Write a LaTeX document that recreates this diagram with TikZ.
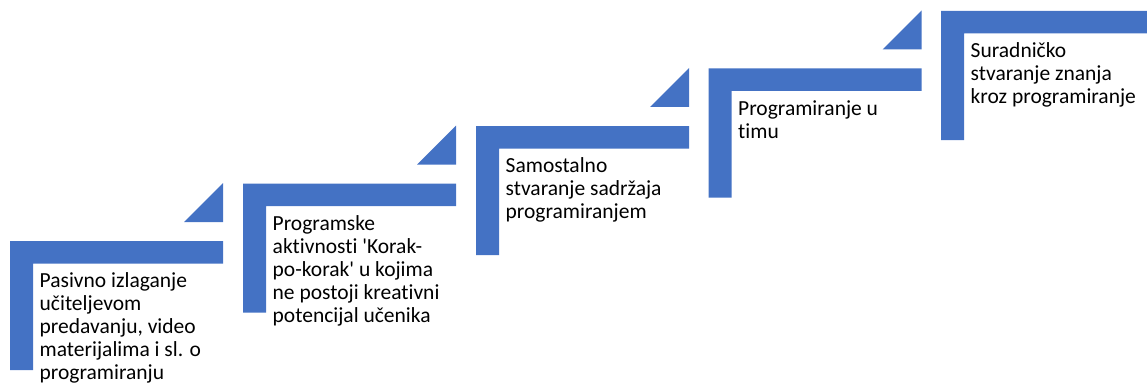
\documentclass[tikz,border=0pt]{standalone}
\usepackage{fontspec}
\setmainfont{Carlito}[Ligatures={NoCommon}]
\definecolor{stepblue}{HTML}{4472C4}
\newcommand{\stepshape}[3]{% x0, top, barend
  \fill[stepblue] (#1,#2) -- (#3,#2) -- (#3,#2+22.5) -- (#1+23,#2+22.5) -- (#1+23,#2+129) -- (#1,#2+129) -- cycle;}
\newcommand{\steptri}[2]{% x0, top
  \fill[stepblue] (#1+174,#2-19) -- (#1+213,#2-19) -- (#1+213,#2-58) -- cycle;}
\begin{document}
\begin{tikzpicture}[x=1pt,y=-1pt,
  steptext/.style={anchor=base west, inner sep=0pt, font=\fontsize{21.5}{23}\selectfont}]
\useasboundingbox (0,0) rectangle (1147,385);
\stepshape{10}{241}{223}
\steptri{10}{241}
\stepshape{243}{183.5}{456}
\steptri{243}{183.5}
\stepshape{476}{126}{689}
\steptri{476}{126}
\stepshape{708.5}{68.5}{921.5}
\steptri{708.5}{68.5}
\stepshape{941}{11}{1147}
\node[steptext] (t1) at (39.5,287.5) {\parbox[t]{200pt}{\raggedright Pasivno izlaganje\\ učiteljevom\\ predavanju, video\\ materijalima i sl. o\\ programiranju}};
\node[steptext] (t2) at (272.5,230) {\parbox[t]{200pt}{\raggedright Programske\\ aktivnosti \textquotesingle Korak-\\ po-korak\textquotesingle\ u kojima\\ ne postoji kreativni\\ potencijal učenika}};
\node[steptext] (t3) at (505.5,172.5) {\parbox[t]{200pt}{\raggedright Samostalno\\ stvaranje sadržaja\\ programiranjem}};
\node[steptext] (t4) at (738,115) {\parbox[t]{200pt}{\raggedright Programiranje u\\ timu}};
\node[steptext] (t5) at (970.5,57.5) {\parbox[t]{200pt}{\raggedright Suradničko\\ stvaranje znanja\\ kroz programiranje}};
\end{tikzpicture}
\end{document}
